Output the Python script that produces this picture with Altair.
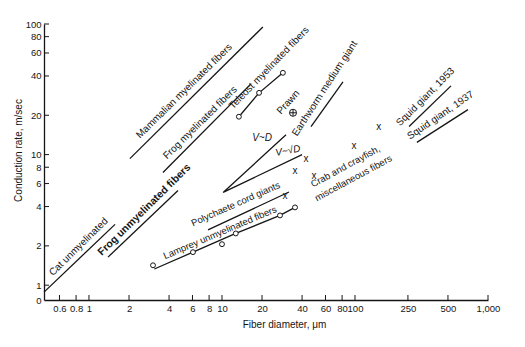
import altair as alt
import pandas as pd

# ---------------- axis ticks / domains ----------------
X_TICKS = [0.6, 0.8, 1, 2, 4, 6, 8, 10, 20, 40, 60, 80, 100, 250, 500, 1000]
Y_TICKS = [0.77, 1, 2, 4, 6, 8, 10, 20, 40, 60, 80, 100]
X_DOMAIN = [0.459, 1000]
Y_DOMAIN = [0.77, 100]

# ---------------- line series (fiber diameter um, conduction rate m/s) ----------------
series_names = [
    "Cat unmyelinated", "Frog unmyelinated", "Mammalian myelinated",
    "Frog myelinated", "Teleost myelinated", "Earthworm medium giant",
    "V~D / V~sqrtD", "Polychaete cord giants", "Lamprey unmyelinated",
    "Squid giant 1953", "Squid giant 1937",
]
series_x = [
    [0.459, 1.57],
    [1.39, 4.67],
    [2.03, 20.3],
    [3.6, 16.5],
    [13.4, 19.0, 28.7],
    [46.7, 81.2],
    [30.3, 10.2, 40.0],
    [7.85, 31.9],
    [3.1, 6.05, 12.7, 27.3, 35.4],
    [255, 527],
    [292, 707],
]
series_y = [
    [0.885, 2.92],
    [1.64, 5.31],
    [9.31, 94.9],
    [7.29, 34.8],
    [19.5, 29.7, 42.3],
    [16.4, 36.1],
    [14.2, 5.13, 10.0],
    [2.65, 5.17],
    [1.33, 1.79, 2.49, 3.42, 3.94],
    [16.4, 33.6],
    [12.4, 22.1],
]

# open-circle measurements
circle_x = [13.4, 19.0, 28.7, 3.03, 6.05, 10.0, 12.7, 27.3, 35.4]
circle_y = [19.5, 29.7, 42.3, 1.42, 1.79, 2.06, 2.49, 3.42, 3.94]

# prawn
prawn_x = [34.2]
prawn_y = [20.9]

# crab / crayfish / misc ("x" marks)
cross_x = [42.8, 35.4, 49.2, 98.3, 151, 29.8]
cross_y = [9.16, 7.42, 6.79, 11.5, 16.1, 4.7]

# ---------------- annotation labels ----------------
label_text = [
    "Cat unmyelinated", "Frog unmyelinated fibers", "Mammalian myelinated fibers",
    "Frog myelinated fibers", "Teleost myelinated fibers", "Prawn",
    "Earthworm medium giant", "V~D", "V~√D", "Polychaete cord giants",
    "Lamprey unmyelinated fibers", "Crab and crayfish,", "miscellaneous fibers",
    "Squid giant, 1953", "Squid giant, 1937",
]
label_x = [0.536, 1.25, 2.42, 3.86, 12.1, 27.8, 36.6, 20.0, 31.3, 6.05, 3.73, 48.3, 51.8, 218, 259]
label_y = [1.17, 1.67, 13.2, 9.16, 22.1, 20.2, 13.7, 13.5, 10.7, 2.82, 1.58, 5.6, 4.38, 16.4, 13.0]

# styles (angle, size, weight, style, align)
label_style = [
    (315.4, 10, "normal", "normal", "left"),
    (315.4, 10.5, "bold", "normal", "left"),
    (315.4, 10, "normal", "normal", "left"),
    (315.4, 10, "normal", "normal", "left"),
    (314, 10, "normal", "normal", "left"),
    (312, 10, "normal", "normal", "left"),
    (303, 10, "normal", "normal", "left"),
    (0, 10, "normal", "italic", "center"),
    (350, 10, "normal", "italic", "center"),
    (336, 9.5, "normal", "normal", "left"),
    (337, 9.5, "normal", "normal", "left"),
    (331.5, 9.5, "normal", "normal", "left"),
    (331.5, 9.5, "normal", "normal", "left"),
    (315, 10, "normal", "normal", "left"),
    (325.7, 10, "normal", "normal", "left"),
]

FONT = "Liberation Sans"
INK = "#151515"

xscale = alt.Scale(type="log", domain=X_DOMAIN, nice=False, zero=False)
yscale = alt.Scale(type="log", domain=Y_DOMAIN, nice=False, zero=False)

x_axis = alt.Axis(
    values=X_TICKS, format=",", ticks=False, grid=False, domainColor=INK,
    domainWidth=1.3, labelFont=FONT, labelFontSize=9.5, labelColor=INK,
    labelPadding=3, labelOverlap=False, labelFlush=False, labelBound=False,
    title="Fiber diameter, μm", titleFont=FONT, titleFontSize=10,
    titleFontWeight="normal", titleColor=INK, titleX=240, titleY=19,
    titleBaseline="top", titleAlign="center",
)
y_axis = alt.Axis(
    values=Y_TICKS, ticks=False, grid=False, domainColor=INK, domainWidth=1.3,
    labelFont=FONT, labelFontSize=9.5, labelColor=INK, labelPadding=3,
    labelOverlap=False, labelFlush=False, labelBound=False,
    labelExpr="datum.value < 0.9 ? '0' : format(datum.value, 'd')",
    title="Conduction rate, m/sec", titleFont=FONT, titleFontSize=10,
    titleFontWeight="normal", titleColor=INK, titleAngle=270,
    titleX=-21, titleY=126, titleBaseline="bottom", titleAlign="center",
)

XE = alt.X("d:Q", scale=xscale, axis=x_axis)
YE = alt.Y("v:Q", scale=yscale, axis=y_axis)

# ---------------- build tables ----------------
rows = []
for name, xs, ys in zip(series_names, series_x, series_y):
    for i, (xv, yv) in enumerate(zip(xs, ys)):
        rows.append({"series": name, "d": xv, "v": yv, "o": i})
lines_df = pd.DataFrame(rows)

lines = alt.Chart(lines_df).mark_line(color=INK, strokeWidth=1.3).encode(
    x=XE, y=YE, detail="series:N", order="o:Q",
)

xt = alt.Chart(pd.DataFrame({"d": X_TICKS})).mark_rule(color=INK, strokeWidth=1).encode(
    x=XE, y=alt.value(276), y2=alt.value(271),
)
yt = alt.Chart(pd.DataFrame({"v": Y_TICKS[1:]})).mark_rule(color=INK, strokeWidth=1).encode(
    y=YE, x=alt.value(0), x2=alt.value(5),
)

circles = alt.Chart(pd.DataFrame({"d": circle_x, "v": circle_y})).mark_point(
    shape="circle", filled=True, fill="white", stroke=INK, strokeWidth=1, size=24, opacity=1
).encode(x=XE, y=YE)

prawn_df = pd.DataFrame({"d": prawn_x, "v": prawn_y})
prawn_c = alt.Chart(prawn_df).mark_point(
    shape="circle", filled=True, fill="white", stroke=INK, strokeWidth=1, size=50, opacity=1
).encode(x=XE, y=YE)
prawn_p = alt.Chart(prawn_df).mark_point(
    shape="M-1,0L1,0M0,-1L0,1", filled=False, stroke=INK, strokeWidth=1, size=40, opacity=1
).encode(x=XE, y=YE)

crosses = alt.Chart(pd.DataFrame({"d": cross_x, "v": cross_y, "m": ["x"] * len(cross_x)})).mark_text(
    font=FONT, fontSize=10, color=INK, align="center", baseline="middle", dy=-1
).encode(x=XE, y=YE, text="m:N")

layers = [lines, xt, yt, circles, prawn_c, prawn_p, crosses]
for t, xv, yv, (ang, fs, fw, fst, al) in zip(label_text, label_x, label_y, label_style):
    layers.append(
        alt.Chart(pd.DataFrame({"d": [xv], "v": [yv], "t": [t]})).mark_text(
            font=FONT, fontSize=fs, fontWeight=fw, fontStyle=fst, angle=ang,
            align=al, baseline="alphabetic" if al == "left" else "middle", color=INK,
        ).encode(x=XE, y=YE, text="t:N")
    )

chart = alt.layer(*layers).properties(
    width=444, height=276,
    padding={"left": 44, "top": 24, "right": 37, "bottom": 47},
    autosize=alt.AutoSizeParams(type="none"),
    background="white",
).configure_view(stroke=None)

chart.save("out.html", embed_options={"renderer": "svg", "actions": False})
